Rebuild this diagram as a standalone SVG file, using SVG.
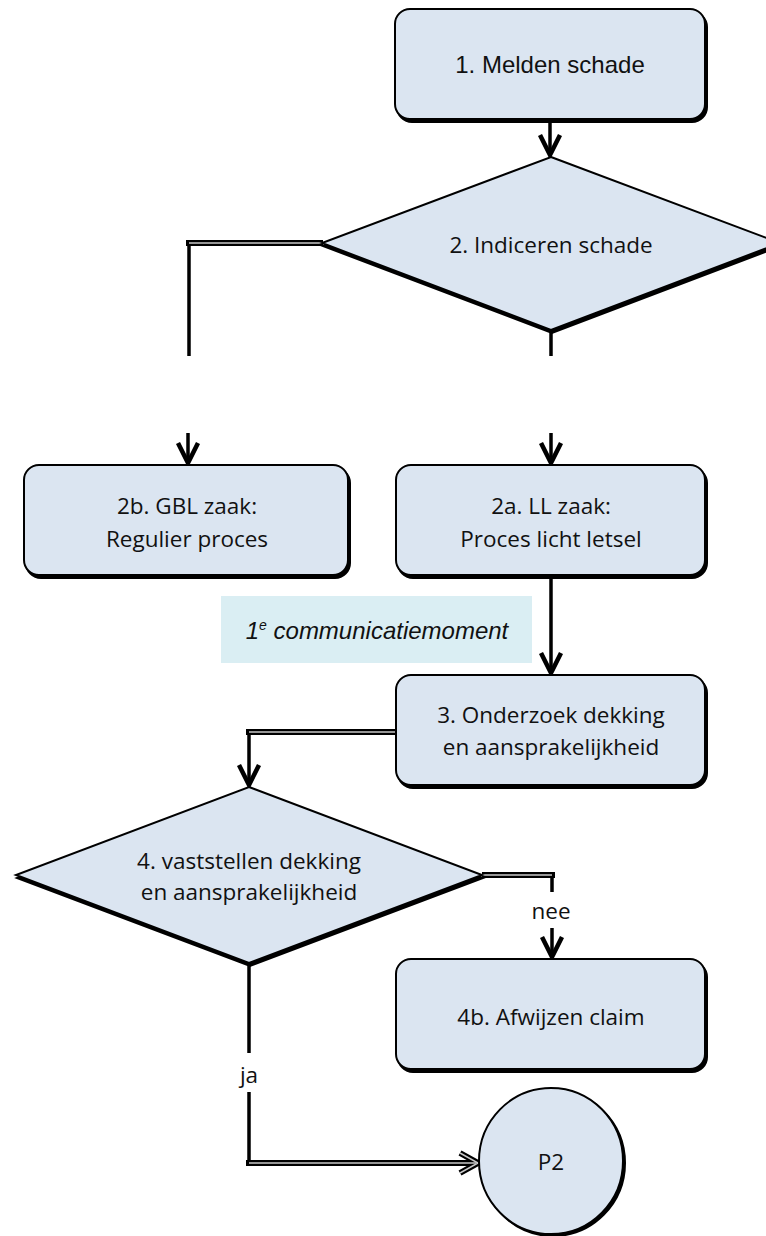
<svg xmlns="http://www.w3.org/2000/svg" width="766" height="1236" viewBox="0 0 766 1236">
<style>
.shape{fill:#DBE5F1;stroke:#000;stroke-width:2}
.shadow{fill:#000;stroke:#000;stroke-width:2}
.t{font-family:"Open Sans","Noto Sans",sans-serif;font-size:22.5px;fill:#111;text-anchor:middle}
.ta{font-family:"Liberation Sans",Arial,sans-serif;font-size:24px;fill:#111;text-anchor:middle}
.ti{font-family:"Liberation Sans",Arial,sans-serif;font-size:24px;font-style:italic;fill:#111;text-anchor:middle}
.line{fill:none;stroke:#000;stroke-width:3.5}
.dbl{fill:none;stroke:#000;stroke-width:6}
.dblin{fill:none;stroke:#c8c8c8;stroke-width:1.5}
</style>
<defs>
<marker id="arr" markerUnits="userSpaceOnUse" markerWidth="30" markerHeight="30" viewBox="-26 -15 30 30" refX="0" refY="0" orient="auto" overflow="visible">
<path d="M-21,-10 L-1,0 L-21,10" fill="none" stroke="#000" stroke-width="4.5" stroke-linejoin="miter"/>
</marker>
<marker id="arr2" markerUnits="userSpaceOnUse" markerWidth="30" markerHeight="30" viewBox="-26 -15 30 30" refX="0" refY="0" orient="auto" overflow="visible">
<path d="M-18,-10 L0,0 L-18,10" fill="none" stroke="#000" stroke-width="6" stroke-linejoin="miter"/>
<path d="M-18,-10 L0,0 L-18,10" fill="none" stroke="#c8c8c8" stroke-width="1.5" stroke-linejoin="miter"/>
</marker>
</defs>

<g id="connectors">
<line class="line" x1="550" y1="121" x2="550" y2="156" marker-end="url(#arr)"/>
<path class="line" d="M189,243 V356"/>
<path class="dbl" d="M323,243 H186"/>
<path class="dblin" d="M323,243 H189"/>
<line class="line" x1="551" y1="330" x2="551" y2="356"/>
<line class="line" x1="188" y1="433" x2="188" y2="464" marker-end="url(#arr)"/>
<line class="line" x1="551" y1="433" x2="551" y2="464" marker-end="url(#arr)"/>
<line class="line" x1="551" y1="577" x2="551" y2="674" marker-end="url(#arr)"/>
<path class="line" d="M249,732 V786" marker-end="url(#arr)"/>
<path class="dbl" d="M396,732 H246"/>
<path class="dblin" d="M396,732 H249"/>
<path class="line" d="M552,875 V892"/>
<path class="dbl" d="M482,875 H555"/>
<path class="dblin" d="M482,875 H552"/>
<line class="line" x1="552" y1="928" x2="552" y2="958" marker-end="url(#arr)"/>
<line class="line" x1="249" y1="963" x2="249" y2="1053"/>
<path class="line" d="M249,1092 V1163"/>
<path class="dbl" d="M246,1163 H478" marker-end="url(#arr2)"/>
<path class="dblin" d="M249,1163 H476"/>
<text class="t" x="551" y="919">nee</text>
<text class="t" x="249" y="1083">ja</text>
</g>

<g id="n1">
<rect class="shadow" x="397" y="12" width="310" height="110" rx="15"/>
<rect class="shape" x="395" y="9" width="310" height="110" rx="15"/>
<text class="ta" x="550" y="73">1. Melden schade</text>
</g>

<g id="n2">
<polygon class="shadow" points="552,160 781,246 552,333 323,246"/>
<polygon class="shape" points="551,157 780,243 551,330 322,243"/>
<text class="t" x="551" y="253">2. Indiceren schade</text>
</g>

<g id="n2b">
<rect class="shadow" x="26" y="468" width="324" height="110" rx="15"/>
<rect class="shape" x="24" y="465" width="324" height="110" rx="15"/>
<text class="t" x="187" y="514">2b. GBL zaak:</text>
<text class="t" x="187" y="547">Regulier proces</text>
</g>

<g id="n2a">
<rect class="shadow" x="398" y="468" width="309" height="110" rx="15"/>
<rect class="shape" x="396" y="465" width="309" height="110" rx="15"/>
<text class="t" x="551" y="514">2a. LL zaak:</text>
<text class="t" x="551" y="547">Proces licht letsel</text>
</g>

<g id="note">
<rect x="221" y="596" width="311" height="67" fill="#DAEEF3"/>
<text class="ti" x="377" y="639">1<tspan dy="-9" font-size="14">e</tspan><tspan dy="9"> communicatiemoment</tspan></text>
</g>

<g id="n3">
<rect class="shadow" x="398" y="678" width="309" height="110" rx="15"/>
<rect class="shape" x="396" y="675" width="309" height="110" rx="15"/>
<text class="t" x="551" y="723">3. Onderzoek dekking</text>
<text class="t" x="551" y="755">en aansprakelijkheid</text>
</g>

<g id="n4">
<polygon class="shadow" points="250,790 483,878 250,966 17,878"/>
<polygon class="shape" points="249,787 482,875 249,963 16,875"/>
<text class="t" x="249" y="869">4. vaststellen dekking</text>
<text class="t" x="249" y="900">en aansprakelijkheid</text>
</g>

<g id="n4b">
<rect class="shadow" x="398" y="962" width="309" height="110" rx="15"/>
<rect class="shape" x="396" y="959" width="309" height="110" rx="15"/>
<text class="t" x="551" y="1025">4b. Afwijzen claim</text>
</g>

<g id="p2">
<ellipse class="shadow" cx="553" cy="1163" rx="72" ry="73"/>
<ellipse class="shape" cx="551" cy="1161" rx="72" ry="73"/>
<text class="t" x="551" y="1170">P2</text>
</g>
</svg>
